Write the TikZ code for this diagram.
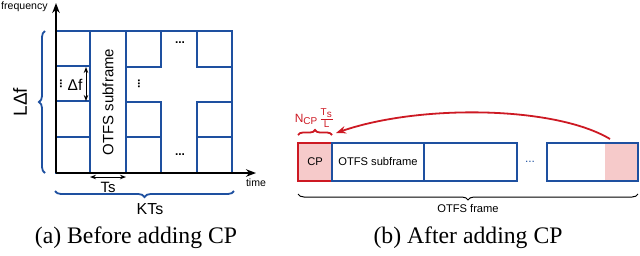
\documentclass[tikz,border=0pt]{standalone}
\usepackage{fontspec}
\setmainfont{Liberation Serif}
\setsansfont{Liberation Sans}
\usepackage{xcolor}
\usepackage{tikz}
\usetikzlibrary{arrows.meta,calc,decorations.pathreplacing,positioning}
\definecolor{gridblue}{RGB}{30,80,160}
\definecolor{cpred}{RGB}{205,25,35}
\definecolor{cppink}{RGB}{246,202,202}
\tikzset{
  cell/.style={draw=gridblue,line width=1bp},
  lbl/.style={font=\sffamily\fontsize{7.5}{8}\selectfont,inner sep=0pt},
  small/.style={font=\sffamily\fontsize{5.3}{6}\selectfont,inner sep=0pt},
  dotsh/.style={inner sep=0pt,font=\sffamily\bfseries\fontsize{6}{6}\selectfont},
  caption/.style={font=\fontsize{11.9}{14}\selectfont,inner sep=0pt},
  slot/.style={draw=gridblue,line width=0.9bp,minimum height=19bp,inner sep=0pt,
    outer sep=0pt,anchor=west,font=\sffamily\fontsize{5.6}{6}\selectfont},
  bracebox/.style={decorate,decoration={brace,amplitude=#1}},
}

\begin{document}
\begin{tikzpicture}[x=0.5bp,y=-0.5bp]
    \useasboundingbox (0,0) rectangle (640,255);
    % (a) time-frequency grid
    \foreach \ya/\yb in {31/66,66/101,101/137,137/173} \draw[cell] (56,\ya) rectangle (90,\yb);
    \draw[cell] (90,31) rectangle (126,173);
    \foreach \x in {126,197} \foreach \ya/\yb in {31/67,102/137,137/173} \draw[cell] (\x,\ya) rectangle ({\x+35},\yb);
    \draw[cell] (162,31) -- (197,31);
    \draw[cell] (232,31) -- (232,173);
    \node[lbl,rotate=90] (sub) at (108,102) {OTFS subframe};
    \node[dotsh,rotate=90] (vd1) at (61,84) {...};
    \node[lbl,font=\sffamily\fontsize{7.8}{8}\selectfont] (df) at (75,85) {Δf};
    \draw[{Stealth[length=3bp]}-{Stealth[length=3bp]},line width=0.5bp] (86,67) -- (86,101);
    \node[dotsh,rotate=90] (vd2) at (139,84) {...};
    \node[dotsh] (hd1) at (180,43) {...};
    \node[dotsh] (hd2) at (180,155) {...};
    % axes
    \draw[line width=1bp,-{Stealth[length=5bp]}] (56,173) -- (56,3);
    \draw[line width=1bp,-{Stealth[length=5bp]}] (56,173) -- (256,173);
    \node[small,anchor=east] (freq) at (48,7) {frequency};
    \node[small] (time) at (256,183) {time};
    % spans
    \draw[gridblue,line width=0.9bp,bracebox=3bp] (45,173) -- (45,31);
    \node[lbl,rotate=90,font=\sffamily\fontsize{9.5}{10}\selectfont] (ldf) at (20,102) {LΔf};
    \draw[{Stealth[length=3bp]}-{Stealth[length=3bp]},line width=0.5bp] (90,177) -- (126,177);
    \node[lbl] (ts) at (108,187) {Ts};
    \draw[gridblue,line width=0.9bp,bracebox=3bp] (234,191) -- (55,191);
    \node[lbl,font=\sffamily\fontsize{8}{9}\selectfont] (kts) at (150,209) {KTs};
    \node[caption] (capa) at (136,238) {(a) Before adding CP};
    % (b) frame with cyclic prefix
    \fill[cppink] (605,143) rectangle (638,181);
    \node[slot,draw=cpred,line width=1.1bp,fill=cppink,minimum width=17bp] (cp) at (298,162) {CP};
    \node[slot,minimum width=46bp,right=0pt of cp] (sf1) {OTFS subframe};
    \node[slot,minimum width=46.5bp,right=0pt of sf1] (sf2) {};
    \node[inner sep=0pt,text=gridblue,font=\sffamily\fontsize{6}{6}\selectfont] (hd3) at (530,162) {...};
    \node[slot,minimum width=45.5bp] (sfk) at (547,162) {};
    \draw[cpred,line width=0.9bp,bracebox=2.5bp] (cp.north west) ++(0,-8) coordinate (bl) -- ($(cp.north east)+(0,-8)$) coordinate (br);
    \node[inner sep=0pt,text=cpred,font=\fontsize{6}{7}\selectfont] (ncp) at (315,118) {$\mathsf{N}_{\mathsf{CP}}\frac{\mathsf{T}_{\mathsf{s}}}{\mathsf{L}}$};
    \coordinate (src) at (610,139);
    \coordinate (dst) at (336,133);
    \draw[cpred,line width=0.9bp,-{Stealth[length=5bp]}] (src) .. controls (555,106) and (420,104) .. (dst);
    \draw[line width=0.5bp,bracebox=3bp] (638,194) -- (298,194);
    \node[small,font=\sffamily\fontsize{5.6}{6}\selectfont] (frame) at (468,209) {OTFS frame};
    \node[caption] (capb) at (468,238) {(b) After adding CP};
\end{tikzpicture}
\end{document}
